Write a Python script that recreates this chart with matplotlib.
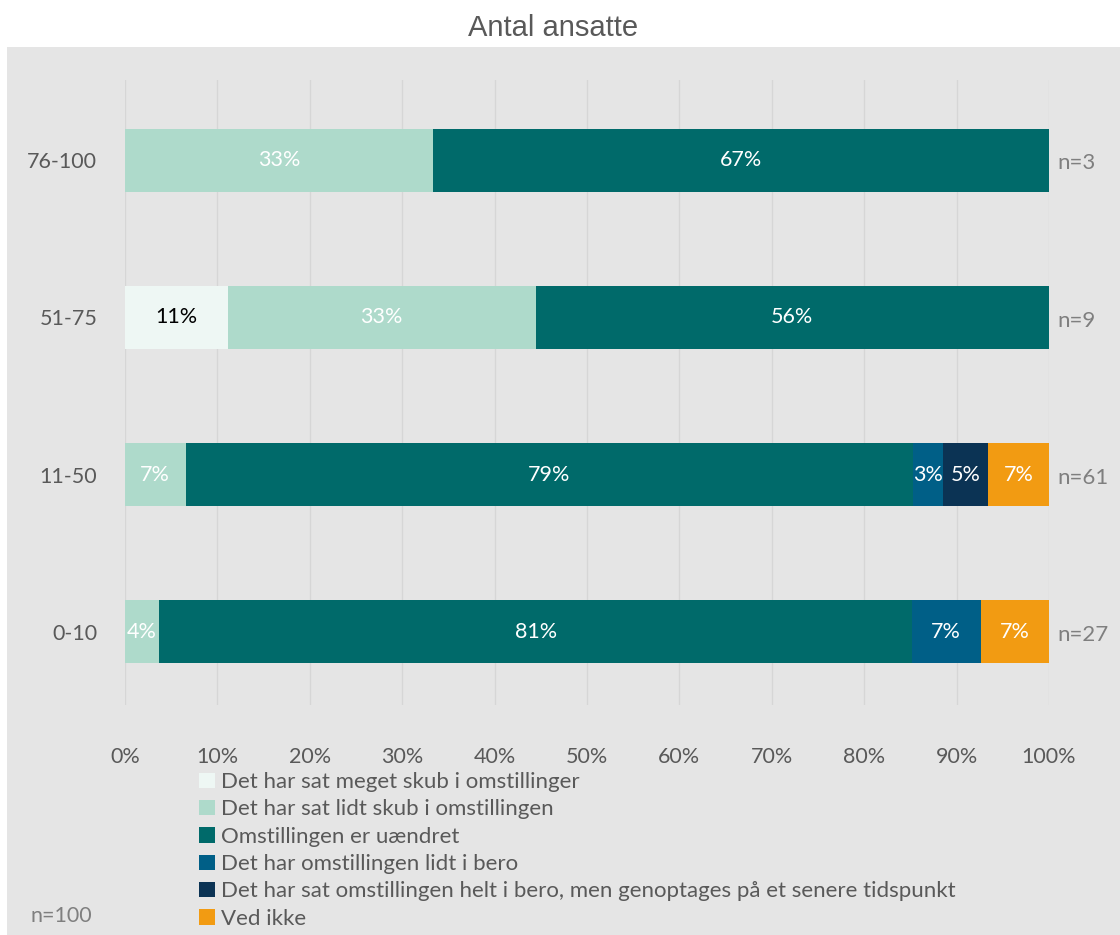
import numpy as np
import matplotlib.pyplot as plt
from matplotlib.patches import Rectangle

groups = ['0-10', '11-50', '51-75', '76-100']
n_labels = ['n=27', 'n=61', 'n=9', 'n=3']
series = ['Det har sat meget skub i omstillinger',
          'Det har sat lidt skub i omstillingen',
          'Omstillingen er uændret',
          'Det har omstillingen lidt i bero',
          'Det har sat omstillingen helt i bero, men genoptages på et senere tidspunkt',
          'Ved ikke']
# shares in percent per group (0-10, 11-50, 51-75, 76-100)
values = [
    [0.0, 0.0, 11.11, 0.0],
    [3.70, 6.56, 33.33, 33.33],
    [81.48, 78.69, 55.56, 66.67],
    [7.41, 3.28, 0.0, 0.0],
    [0.0, 4.92, 0.0, 0.0],
    [7.41, 6.56, 0.0, 0.0],
]
colors = ['#EEF7F4', '#AEDACB', '#006A6A', '#005F87', '#0B3354', '#F29B12']
text_colors = ['black', 'white', 'white', 'white', 'white', 'white']

W, H = 1120, 935
fig = plt.figure(figsize=(W / 100, H / 100), dpi=100)
fig.patch.set_facecolor('white')
fig.patches.append(Rectangle((7 / W, 0), 1, (H - 47) / H, transform=fig.transFigure,
                             facecolor='#E5E5E5', edgecolor='none', zorder=0))

ax = fig.add_axes([125 / W, (H - 705) / H, (1049 - 125) / W, (705 - 80) / H])
ax.set_facecolor('none')
ax.set_zorder(1)

y = np.arange(len(groups))
left = np.zeros(len(groups))
for vals, col, tc, name in zip(values, colors, text_colors, series):
    vals = np.array(vals)
    ax.barh(y, vals, left=left, height=0.4, color=col, label=name, zorder=3)
    for yi, (l, v) in enumerate(zip(left, vals)):
        if v > 0:
            ax.text(l + v / 2, yi, f'{v:.0f}%', ha='center', va='center',
                    color=tc, fontsize=15.5, family='Lato', zorder=4)
    left += vals

for yi, lab in enumerate(n_labels):
    ax.text(100.9, yi - 0.02, lab, ha='left', va='center', color='#7F7F7F',
            fontsize=16, family='Lato')

ax.set_xlim(0, 100)
ax.set_ylim(-0.465, 3.51)
ax.set_xticks(np.arange(0, 101, 10))
ax.set_xticklabels([f'{t}%' for t in range(0, 101, 10)])
ax.set_yticks(y)
ax.set_yticklabels(groups)
ax.tick_params(length=0, labelsize=15.5, labelcolor='#595959', pad=20)
ax.tick_params(axis='x', pad=30)
for lab in ax.get_xticklabels() + ax.get_yticklabels():
    lab.set_family('Lato')
ax.grid(axis='x', color='#D6D6D6', linewidth=1, zorder=0)
ax.set_axisbelow(True)
for s in ax.spines.values():
    s.set_visible(False)

fig.text(553 / W, 1 - 28 / H, 'Antal ansatte', ha='center', va='center',
         fontsize=21, color='#595959', family='Liberation Sans')

leg = fig.legend(loc='upper left', bbox_to_anchor=(188 / W, 1 - 761 / H), frameon=False,
                 prop={'family': 'Lato', 'size': 16}, labelcolor='#595959',
                 handlelength=0.7, handleheight=0.7, handletextpad=0.3,
                 labelspacing=0.33, borderpad=0)

fig.text(30 / W, 1 - 916 / H, 'n=100', ha='left', va='center', fontsize=15.5,
         color='#7F7F7F', family='Lato')

fig.savefig('out.png', dpi=100)
